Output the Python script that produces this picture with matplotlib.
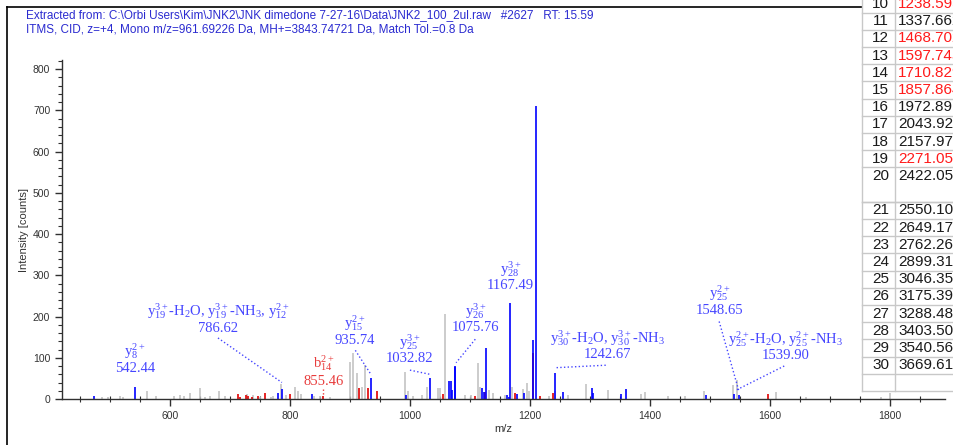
import matplotlib.pyplot as plt
from matplotlib.lines import Line2D
from matplotlib.patches import Rectangle

plt.rcParams['font.family'] = ['Liberation Sans', 'DejaVu Sans']
plt.rcParams['mathtext.fontset'] = 'custom'
plt.rcParams['mathtext.rm'] = 'Liberation Serif'
plt.rcParams['mathtext.it'] = 'Liberation Serif:italic'
plt.rcParams['mathtext.bf'] = 'Liberation Serif:bold'

header = [
    r'Extracted from: C:\Orbi Users\Kim\JNK2\JNK dimedone 7-27-16\Data\JNK2_100_2ul.raw   #2627   RT: 15.59',
    'ITMS, CID, z=+4, Mono m/z=961.69226 Da, MH+=3843.74721 Da, Match Tol.=0.8 Da',
]

# unassigned peaks
grey_mz = [486, 497, 517, 522, 562, 577, 606, 617, 623, 633, 650, 658, 667, 682, 692,
           728, 739, 750, 768, 772, 784.5, 793, 808, 814, 818, 840, 850, 867,
           900, 905.5, 911, 919.4, 925, 991.7, 997, 1005.5, 1019.4, 1027.8, 1047, 1050,
           1058, 1092, 1101, 1113, 1116.7, 1131.7, 1139, 1158, 1169.5, 1188, 1194.4,
           1199, 1232, 1241.7, 1264, 1293, 1330.6, 1386, 1391.7, 1430, 1458, 1490.5,
           1537.8, 1544.5, 1611, 1661, 1786, 1800]
grey_int = [4, 6, 8, 6, 20, 8, 8, 10, 8, 14, 27, 6, 8, 19, 8,
            12, 10, 6, 6, 8, 36, 10, 30, 20, 12, 8, 8, 6,
            90, 111, 63, 28, 82, 65, 20, 8, 10, 30, 27, 27,
            205, 10, 10, 87, 30, 22, 15, 10, 30, 24, 38,
            20, 8, 20, 10, 36, 22, 12, 18, 8, 8, 20,
            34, 46, 18, 6, 4, 14]

# matched y ions
blue_mz = [473, 779.5, 836, 992.8, 1065.6, 1068.3, 1070.6, 1075, 1119.4, 1124,
           1126.7, 1162, 1165, 1178.9, 1190, 1205.5, 1210, 1254.4, 1303, 1305.6,
           1351.7, 1361, 1492.8]
blue_int = [7, 14, 12, 10, 44, 44, 22, 78, 26, 18,
            124, 9, 6, 12, 14, 143, 710, 18, 27, 15,
            12, 25, 10]

# matched b ions
red_mz = [714, 717, 726, 730.5, 736, 747, 758, 800, 915.5, 930.5, 945.6, 1054.4,
          1108, 1125.6, 1176, 1204.5, 1216.7, 1238.9, 1597.5]
red_int = [12, 6, 10, 8, 6, 8, 14, 11, 26, 27, 20, 12,
           7, 18, 15, 112, 8, 14, 12]

# labelled peaks
lab_mz = [542.44, 786.62, 855.46, 935.74, 1032.82, 1075.76, 1167.49, 1242.67, 1548.65, 1539.90]
lab_int = [30, 24, 8, 50, 52, 81, 232, 64, 10, 12]
lab_name = [
    r'$\mathrm{y}_{8}^{2+}$',
    r'$\mathrm{y}_{19}^{3+}$-H$_2$O, $\mathrm{y}_{19}^{3+}$-NH$_3$, $\mathrm{y}_{12}^{2+}$',
    r'$\mathrm{b}_{14}^{2+}$',
    r'$\mathrm{y}_{15}^{2+}$',
    r'$\mathrm{y}_{25}^{3+}$',
    r'$\mathrm{y}_{26}^{3+}$',
    r'$\mathrm{y}_{28}^{3+}$',
    r'$\mathrm{y}_{30}^{3+}$-H$_2$O, $\mathrm{y}_{30}^{3+}$-NH$_3$',
    r'$\mathrm{y}_{25}^{2+}$',
    r'$\mathrm{y}_{25}^{2+}$-H$_2$O, $\mathrm{y}_{25}^{2+}$-NH$_3$',
]
lab_is_b = [False, False, True, False, False, False, False, False, False, False]

# fragment table (only part of it is in view)
tab_idx = list(range(10, 31))
tab_val = ['1238.595', '1337.662', '1468.702', '1597.745', '1710.829', '1857.864',
           '1972.891', '2043.928', '2157.971', '2271.056', '2422.056', '2550.108',
           '2649.177', '2762.261', '2899.319', '3046.358', '3175.397', '3288.482',
           '3403.509', '3540.567', '3669.610']
tab_red = [10, 12, 13, 14, 15, 19]

BLUE = '#0000ff'
RED = '#e00000'
GREY = '#c4c4c4'
TXT_BLUE = '#4646ff'
TXT_RED = '#e83c3c'

W, H = 954, 445
fig = plt.figure(figsize=(W / 100, H / 100), dpi=100)
ax = fig.add_axes([62 / W, 1 - 399 / H, (945 - 62) / W, (399 - 60) / H])


def fxy(x, y):
    return x / W, 1 - y / H


ax.vlines(grey_mz, 0, grey_int, color=GREY, lw=1.2)
ax.vlines(red_mz, 0, red_int, color=RED, lw=1.2)
ax.vlines(blue_mz, 0, blue_int, color=BLUE, lw=1.2)
for mz, it, isb in zip(lab_mz, lab_int, lab_is_b):
    ax.vlines(mz, 0, it, color=RED if isb else BLUE, lw=1.2)

ax.set_xlim(420, 1892)
ax.set_ylim(0, 822)
ax.set_xticks(range(600, 1801, 200))
ax.set_xticks(range(450, 1891, 50), minor=True)
ax.set_yticks(range(0, 801, 100))
ax.set_yticks(range(0, 821, 20), minor=True)
for s in ['top', 'right']:
    ax.spines[s].set_visible(False)
for s in ['left', 'bottom']:
    ax.spines[s].set_color('#303030')
    ax.spines[s].set_linewidth(1.0)
ax.tick_params(which='major', length=5, width=1, color='#303030',
               labelsize=7.5, labelcolor='#333333')
ax.tick_params(which='minor', length=3, width=0.8, color='#303030')
ax.tick_params(axis='x', which='minor', direction='inout', length=4)
ax.set_xlabel('m/z', fontsize=8, color='#333333', labelpad=2)
ax.set_ylabel('Intensity [counts]', fontsize=8, color='#333333', labelpad=3)

# label text positions (m/z, name y, value y) and leader lines
lab_pos = [(541.7, 116, 75), (680, 213, 172), (855.5, 88, 42), (908.3, 184, 143),
           (1000, 138, 97), (1110, 213, 174), (1167.49, 314, 276), (1329.5, 147, 107),
           (1515.5, 256, 214), (1625.8, 145, 105)]
leaders = {1: ((680, 148), (786.62, 40)), 2: ((855.46, 24), (855.46, 9)),
           3: ((909, 118), (935.74, 58)), 4: ((1000, 70), (1032.82, 60)),
           5: ((1109, 145), (1077, 88)), 7: ((1244.5, 76), (1328, 82)),
           8: ((1515.5, 188), (1548.65, 18)), 9: ((1624, 80), (1541.7, 20))}

for i, (name, mz, isb) in enumerate(zip(lab_name, lab_mz, lab_is_b)):
    x, yn, yv = lab_pos[i]
    col = TXT_RED if isb else TXT_BLUE
    ax.text(x, yn, name, ha='center', va='center', fontsize=10.5, color=col,
            family='Liberation Serif')
    ax.text(x, yv, f'{mz:.2f}', ha='center', va='center', fontsize=10.5, color=col,
            family='Liberation Serif')
    if i in leaders:
        (x0, y0), (x1, y1) = leaders[i]
        ax.plot([x0, x1], [y0, y1], ls=':', lw=1.0, color=col)

# header
for k, line in enumerate(header):
    fig.text(*fxy(26, 15 + 14.5 * k), line, ha='left', va='center', fontsize=8.5,
             color='#2b2bd0')

# outer frame
fig.add_artist(Line2D([7 / W, 7 / W], [0, 1 - 7 / H], color='black', lw=1.2))
fig.add_artist(Line2D([7 / W, 862 / W], [1 - 7 / H, 1 - 7 / H], color='black', lw=1.2))

# fragment table on the right
pitch = 17.2
row_y = []
for n in tab_idx:
    k = n - 10 + (1 if n > 20 else 0)
    row_y.append(4 + k * pitch)
bottom = 4 + 22.5 * pitch
x0, xd, x1 = 862, 895, 960
fig.add_artist(Rectangle(fxy(x0, bottom), (x1 - x0) / W, (bottom + 10) / H,
                         facecolor='white', edgecolor='none', zorder=5))
gc = '#c8c8c8'
edges = [y - pitch / 2 for y in row_y] + [4 + 10.5 * pitch + pitch, bottom - pitch, bottom]
for y in edges:
    fig.add_artist(Line2D([x0 / W, x1 / W], [1 - y / H] * 2, color=gc, lw=1, zorder=6))
for x in (x0, xd):
    fig.add_artist(Line2D([x / W] * 2, [1 - bottom / H, 1], color=gc, lw=1, zorder=6))
for n, v, y in zip(tab_idx, tab_val, row_y):
    col = '#ff1a1a' if n in tab_red else '#1a1a1a'
    fig.text(*fxy(889, y), str(n), ha='right', va='center', fontsize=11,
             color='#1a1a1a', zorder=7)
    fig.text(*fxy(898, y), v, ha='left', va='center', fontsize=11, color=col, zorder=7)

fig.savefig('out.png', dpi=100)
